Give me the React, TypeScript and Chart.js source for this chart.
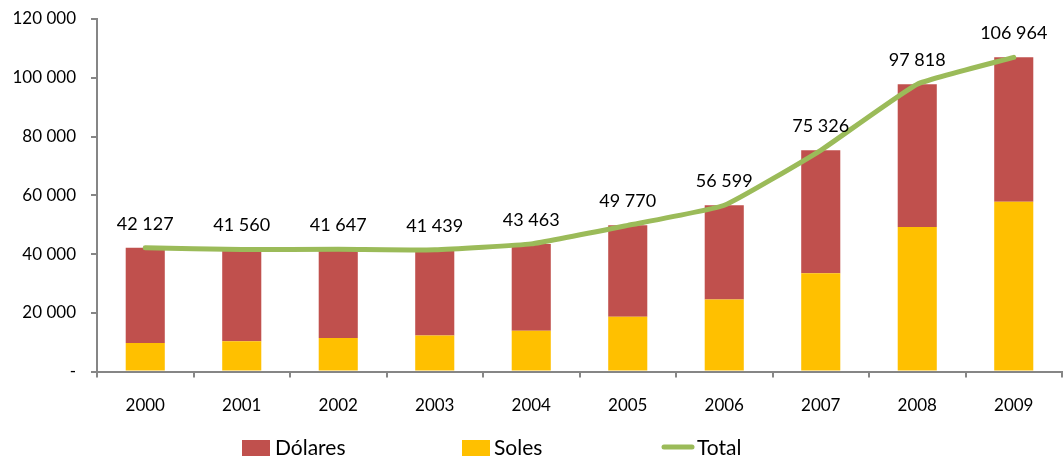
import React, { useEffect, useRef } from "react";
import { Chart, registerables } from "chart.js";

Chart.register(...registerables);

const years = ["2000", "2001", "2002", "2003", "2004", "2005", "2006", "2007", "2008", "2009"];
const totals = [42127, 41560, 41647, 41439, 43463, 49770, 56599, 75326, 97818, 106964];
const soles = [9700, 10300, 11400, 12300, 13900, 18700, 24500, 33500, 49200, 57800];
const dolares = totals.map((t, i) => t - soles[i]);
const yTicks = [0, 20000, 40000, 60000, 80000, 100000, 120000];

const FONT = "Lato, 'Liberation Sans', sans-serif";
const RED = "#C0504D";
const YELLOW = "#FFC000";
const GREEN = "#9BBB59";
const AXIS = "#868686";

const fmt = (n: number) => Math.round(n).toString().replace(/\B(?=(\d{3})+(?!\d))/g, " ");

const labelPlugin = {
  id: "totLabels",
  afterDatasetsDraw(chart: any) {
    const ctx = chart.ctx;
    const meta = chart.getDatasetMeta(2);
    ctx.save();
    ctx.font = `18px ${FONT}`;
    ctx.fillStyle = "#000";
    ctx.textAlign = "center";
    ctx.textBaseline = "middle";
    meta.data.forEach((pt: any, i: number) => {
      ctx.fillText(fmt(totals[i]), pt.x, pt.y - 24);
    });
    ctx.restore();
  },
};

const legendPlugin = {
  id: "customLegend",
  afterDraw(chart: any) {
    const ctx = chart.ctx;
    ctx.save();
    ctx.font = `21px ${FONT}`;
    ctx.textBaseline = "middle";
    const y = 448;
    ctx.fillStyle = RED;
    ctx.fillRect(242, 440, 28, 16);
    ctx.fillStyle = "#000";
    ctx.fillText("Dólares", 275, y);
    ctx.fillStyle = YELLOW;
    ctx.fillRect(462, 440, 28, 16);
    ctx.fillStyle = "#000";
    ctx.fillText("Soles", 494, y);
    ctx.strokeStyle = GREEN;
    ctx.lineWidth = 5;
    ctx.lineCap = "round";
    ctx.beginPath();
    ctx.moveTo(664, 447);
    ctx.lineTo(692, 447);
    ctx.stroke();
    ctx.fillText("Total", 697, y);
    ctx.restore();
  },
};

export default function App() {
  const ref = useRef<HTMLCanvasElement | null>(null);
  useEffect(() => {
    document.body.style.margin = "0";
    if (!ref.current) return;
    const chart = new Chart(ref.current, {
      type: "bar",
      data: {
        labels: years,
        datasets: [
          {
            type: "bar",
            label: "Soles",
            data: soles,
            backgroundColor: YELLOW,
            stack: "a",
            order: 1,
            barPercentage: 0.405,
            categoryPercentage: 1,
          },
          {
            type: "bar",
            label: "Dólares",
            data: dolares,
            backgroundColor: RED,
            stack: "a",
            order: 1,
            barPercentage: 0.405,
            categoryPercentage: 1,
          },
          {
            type: "line",
            label: "Total",
            data: totals,
            borderColor: GREEN,
            backgroundColor: GREEN,
            borderWidth: 5,
            pointRadius: 0,
            tension: 0.12,
            borderCapStyle: "round",
            stack: "t",
            order: 0,
            clip: false,
          } as any,
        ],
      },
      options: {
        responsive: false,
        animation: false,
        layout: { autoPadding: false, padding: { top: 19, right: 2, left: 0, bottom: 23 } },
        plugins: { legend: { display: false }, tooltip: { enabled: false } },
        scales: {
          x: {
            stacked: true,
            offset: true,
            grid: {
              offset: true,
              drawOnChartArea: false,
              drawTicks: true,
              tickLength: 6,
              color: AXIS,
              lineWidth: 2,
            },
            border: { color: AXIS, width: 2 },
            ticks: { color: "#000", font: { family: FONT, size: 17 }, padding: 18, maxRotation: 0 },
          },
          y: {
            stacked: true,
            min: 0,
            max: 120000,
            afterFit: (s: any) => {
              s.width = 97;
              s.paddingTop = 0;
              s.paddingBottom = 0;
            },
            afterBuildTicks: (s: any) => {
              s.ticks = yTicks.map((v) => ({ value: v }));
            },
            grid: {
              drawOnChartArea: false,
              drawTicks: true,
              tickLength: 6,
              color: AXIS,
              lineWidth: 2,
            },
            border: { color: AXIS, width: 2 },
            ticks: {
              color: "#000",
              font: { family: FONT, size: 17 },
              padding: 15,
              callback: (v: any) => (Number(v) === 0 ? "-" : fmt(Number(v))),
            },
          },
        },
      },
      plugins: [labelPlugin, legendPlugin],
    });
    return () => chart.destroy();
  }, []);
  return (
    <div style={{ width: 1064, height: 457 }}>
      <canvas ref={ref} width={1064} height={457} />
    </div>
  );
}
